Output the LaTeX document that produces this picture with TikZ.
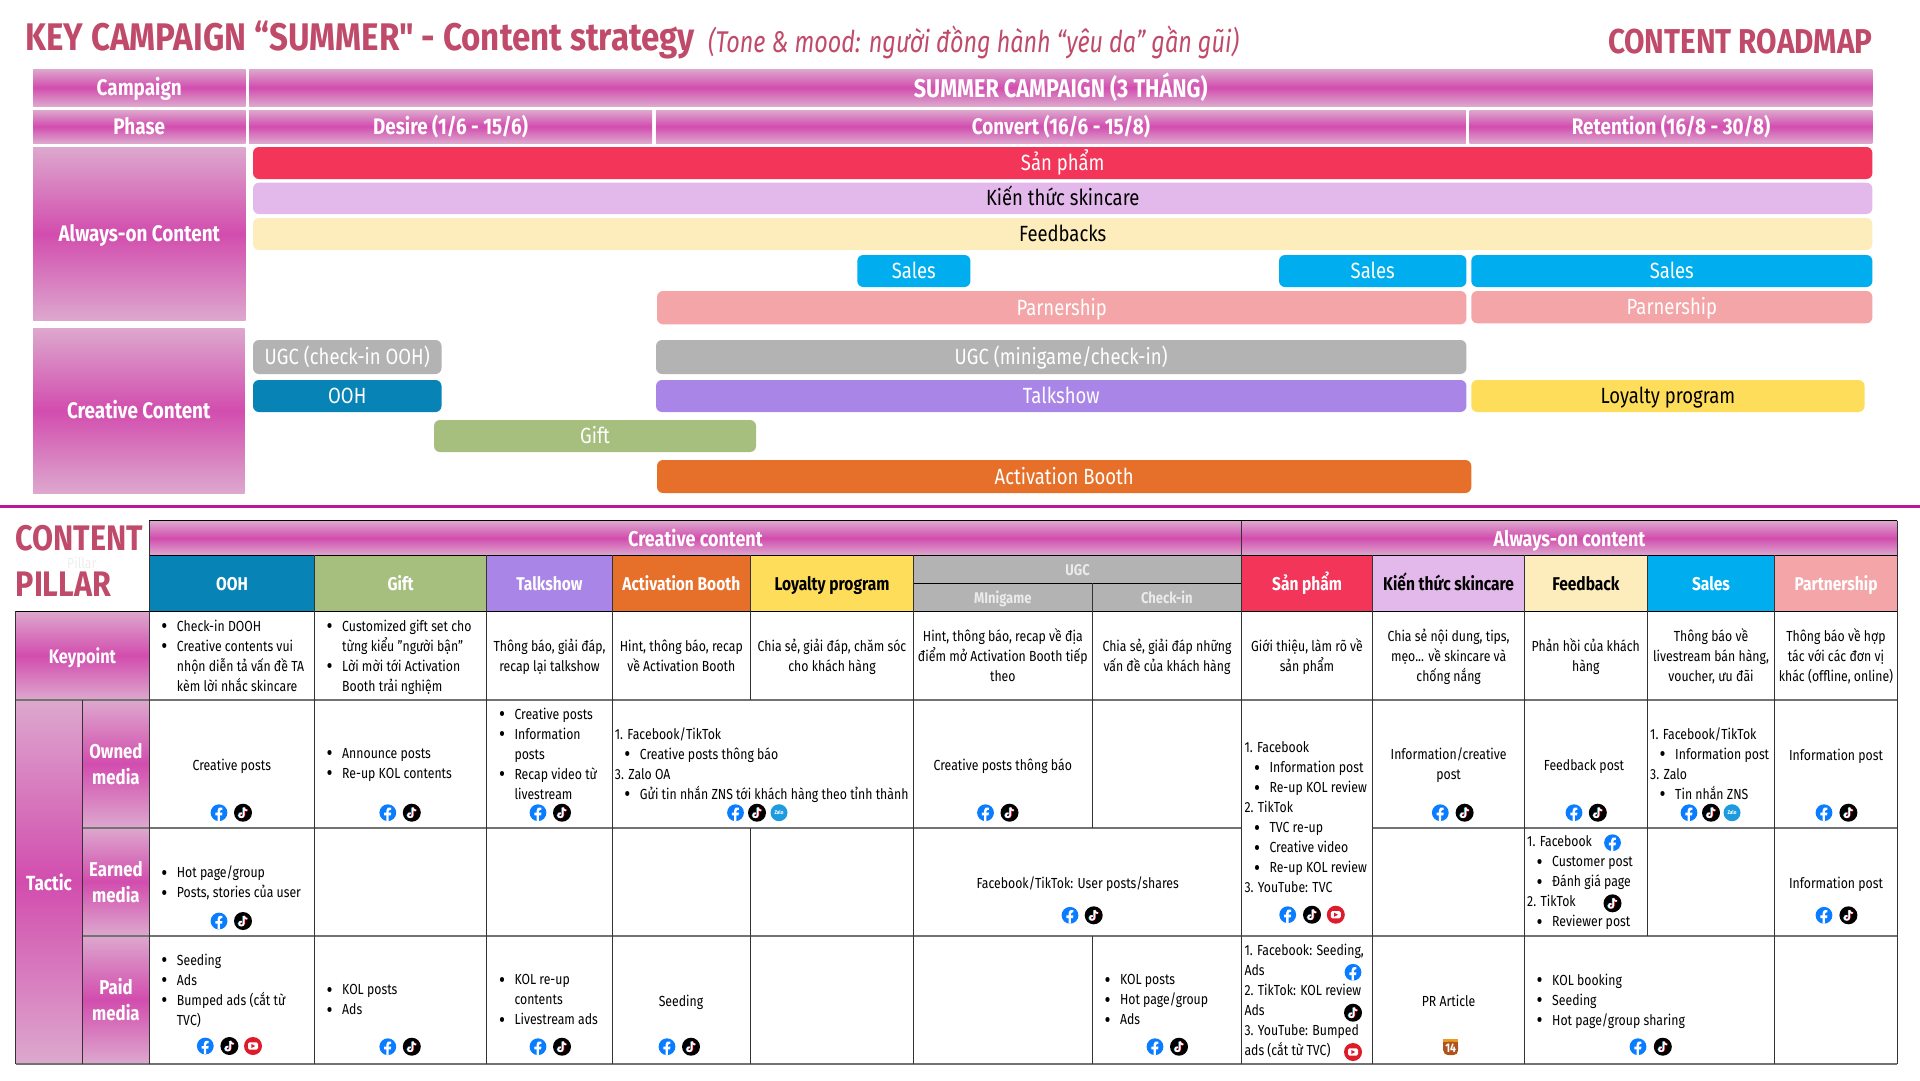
\documentclass[tikz,border=0pt]{standalone}
\usepackage{fontspec}
\setmainfont{Fira Sans}[FakeStretch=0.84]
\newfontfamily\titlefam{Fira Sans}[FakeStretch=0.86]
\newfontfamily\moodfam{Fira Sans}[FakeStretch=0.78]
\usetikzlibrary{positioning}

\definecolor{pinkedge}{HTML}{DDA8CE}
\definecolor{pinkmid}{HTML}{D24DAE}
\definecolor{titlerose}{HTML}{C04A6A}
\definecolor{rulepurple}{HTML}{B8189A}
\definecolor{redbar}{HTML}{F4355A}
\definecolor{lavbar}{HTML}{E3B8EA}
\definecolor{creambar}{HTML}{FDEDBC}
\definecolor{bluebar}{HTML}{00AEEF}
\definecolor{pinkbar}{HTML}{F4A5A7}
\definecolor{graybar}{HTML}{B3B3B3}
\definecolor{tealbar}{HTML}{0784B5}
\definecolor{greenbar}{HTML}{A6BE7E}
\definecolor{purplebar}{HTML}{A985E8}
\definecolor{orangebar}{HTML}{E6702A}
\definecolor{yellowbar}{HTML}{FEDD5A}
\definecolor{fbblue}{HTML}{0A7CFF}
\definecolor{ytred}{HTML}{DE1B2B}
\definecolor{zaloblue}{HTML}{1E9BE0}

\newcommand{\bodyfont}{\fontsize{14.6}{20}\selectfont}
\newcommand{\itm}{\makebox[17pt][l]{\hspace*{1.5pt}\raisebox{-2.5pt}{\fontsize{22}{20}\selectfont •}}}
\newcommand{\itn}{\hspace*{17pt}}
\newcommand{\itb}{\hspace*{8pt}\itm}

% box given by its corners: name, x0, y0, x1, y1, style, text
\newcommand{\boxnode}[7]{\node[#6, minimum width={(#4-#2)*1pt}, minimum height={(#5-#3)*1pt}] (#1) at ({(#2+#4)/2},{(#3+#5)/2}) {#7};}

\tikzset{
	sheenbase/.style={inner sep=0pt, outer sep=0pt, text=white, top color=pinkedge, bottom color=pinkedge, middle color=pinkmid},
	sheen/.style={sheenbase, text height=15.5pt, text depth=0pt, font=\fontsize{22.5}{26}\selectfont\bfseries},
	sheenwide/.style={sheen, text height=16pt, font=\fontsize{21.4}{26}\selectfont\bfseries},
	sheentwo/.style={sheenbase, align=center, font=\fontsize{20}{26}\selectfont\bfseries},
	barbox/.style={inner sep=0pt, outer sep=0pt, rounded corners=6pt, fill=#1, text=white, text height=15pt, text depth=0pt, font=\fontsize{22}{26}\selectfont},
	headcell/.style={inner sep=0pt, outer sep=0pt, fill=#1, text=white, text height=14pt, text depth=0pt, font=\fontsize{18.5}{22}\selectfont\bfseries},
	subcell/.style={headcell=graybar, text=white!92!black, text height=12pt, font=\fontsize{15.5}{18}\selectfont\bfseries},
	txt/.style={inner sep=0pt, yshift=-1.4pt, align=center, font=\bodyfont, execute at begin node=\strut, execute at end node=\strut},
	lst/.style={txt, align=left, anchor=west},
	gridv/.style={draw=black!80, line width=1pt},
	gridh/.style={draw=black!55, line width=1.6pt},
	gridk/.style={draw=black, line width=1pt},
	fbicon/.pic={
		\fill[fbblue] (0,0) circle (8.4);
		\fill[white] (-1.5,8.2) -- (-1.5,2.7) -- (-3.7,2.7) -- (-3.7,0) -- (-1.5,0) -- (-1.5,-2) .. controls (-1.5,-4.7) and (0,-5.5) .. (3.4,-5.2) -- (3.4,-2.9) -- (2.1,-2.9) .. controls (1.1,-2.9) and (0.9,-2.5) .. (0.9,-1.5) -- (0.9,0) -- (3.4,0) -- (3,2.7) -- (0.9,2.7) -- (0.9,8.2) -- cycle;
	},
	tticon/.pic={
		\fill[black] (0,0) circle (9);
		\foreach \ncol/\ndx in {cyan/-0.6, red/0.6, white/0} {
			\draw[\ncol, line width=1.7pt] (0.8+\ndx,-5) -- (0.8+\ndx,2.3) .. controls (0.8+\ndx,5.2) and (-3.8+\ndx,5.2) .. (-3.8+\ndx,2.6) .. controls (-3.8+\ndx,1) and (-2.2+\ndx,0.2) .. (-1+\ndx,0.6);
			\draw[\ncol, line width=1.7pt] (0.8+\ndx,-5) .. controls (1.2+\ndx,-3) and (2.6+\ndx,-2.2) .. (4.2+\ndx,-2.2);
		}
	},
	yticon/.pic={
		\fill[ytred] (0,0) circle (9);
		\fill[white, rounded corners=1.5pt] (-5,-3.6) rectangle (5,3.6);
		\fill[ytred] (-1.6,-2) -- (2.2,0) -- (-1.6,2) -- cycle;
	},
	zaloicon/.pic={
		\fill[zaloblue] (0,0) circle (8.5);
		\node[text=white, inner sep=0pt, font=\fontsize{5.5}{6}\selectfont\bfseries] (-label) at (0,0) {Zalo};
	},
	prbadge/.pic={
		\fill[orangebar!70!yellow] (-7.5,-8) rectangle (7.5,-3);
		\fill[black!25!orangebar, rounded corners=5pt] (-7.5,-5) rectangle (7.5,8.5);
		\fill[black!25!orangebar] (-7.5,-5) rectangle (7.5,0);
		\node[text=white, inner sep=0pt, font=\fontsize{12.5}{13}\selectfont\bfseries] (-label) at (0,1) {14};
	},
}

\begin{document}
\begin{tikzpicture}[x=1pt, y=-1pt]
	\useasboundingbox (0,0) rectangle (1920,1080);

	% heading
	\node[anchor=west, inner sep=0pt, text=titlerose, font=\titlefam\fontsize{38.5}{42}\selectfont\bfseries] (title) at (25.5,40) {KEY CAMPAIGN “SUMMER" - Content strategy};
	\node[anchor=west, inner sep=0pt, text=titlerose, font=\moodfam\fontsize{30}{34}\selectfont\itshape] (mood) at (708,42) {(Tone \& mood: người đồng hành “yêu da” gần gũi)};
	\node[anchor=east, inner sep=0pt, text=titlerose, font=\titlefam\fontsize{34.5}{40}\selectfont\bfseries] (roadmap) at (1872.5,41.5) {CONTENT ROADMAP};

	% roadmap, left column and phases
	\boxnode{campaign}{33}{69}{245.5}{106}{sheen}{Campaign}
	\boxnode{summer}{249}{69}{1872.4}{106}{sheen, text height=19pt, font=\fontsize{25.7}{28}\selectfont\bfseries}{SUMMER CAMPAIGN (3 THÁNG)}
	\boxnode{phase}{33}{110}{245.5}{143}{sheen}{Phase}
	\boxnode{desire}{249}{110}{652}{143}{sheen}{Desire (1/6 - 15/6)}
	\boxnode{convert}{656}{110}{1465.8}{143}{sheen}{Convert (16/6 - 15/8)}
	\boxnode{retention}{1469.5}{110}{1872.4}{143}{sheen}{Retention (16/8 - 30/8)}
	\boxnode{alwaysside}{33}{147}{245.5}{320.7}{sheen}{Always-on Content}
	\boxnode{creativeside}{33}{328}{244.5}{493}{sheen}{Creative Content}

	% roadmap bars
	\boxnode{barProduct}{253}{147}{1872.4}{179}{barbox=redbar}{Sản phẩm}
	\boxnode{barKnow}{253}{182.7}{1872.4}{214}{barbox=lavbar, text=black}{Kiến thức skincare}
	\boxnode{barFeed}{253}{218}{1872.4}{250}{barbox=creambar, text=black}{Feedbacks}
	\boxnode{barSalesA}{857.3}{255}{970.4}{287}{barbox=bluebar}{Sales}
	\boxnode{barSalesB}{1279}{255}{1466.4}{287}{barbox=bluebar}{Sales}
	\boxnode{barSalesC}{1471.3}{255}{1872.4}{287}{barbox=bluebar}{Sales}
	\boxnode{barPartA}{657}{291}{1466.4}{324.3}{barbox=pinkbar}{Parnership}
	\boxnode{barPartB}{1471.3}{291}{1872.4}{323.3}{barbox=pinkbar}{Parnership}
	\boxnode{barUgcA}{253}{340}{441.5}{374}{barbox=graybar}{UGC (check-in OOH)}
	\boxnode{barUgcB}{656}{340}{1466.4}{374}{barbox=graybar}{UGC (minigame/check-in)}
	\boxnode{barOoh}{253}{380}{441.5}{412}{barbox=tealbar}{OOH}
	\boxnode{barTalk}{656}{380}{1466.4}{412}{barbox=purplebar}{Talkshow}
	\boxnode{barLoyal}{1471.3}{380}{1864.5}{412}{barbox=yellowbar, text=black}{Loyalty program}
	\boxnode{barGift}{434}{420}{756}{452}{barbox=greenbar}{Gift}
	\boxnode{barBooth}{657}{460}{1471.3}{493}{barbox=orangebar}{Activation Booth}

	\draw[rulepurple, line width=2.8pt] (0,506.3) -- (1920,506.3);

	% pillar heading
	\node[anchor=west, inner sep=0pt, text=black!7, font=\fontsize{14.6}{18}\selectfont] (ghost) at (67,563) {Pillar};
	\node[anchor=west, inner sep=0pt, text=titlerose, font=\titlefam\fontsize{35.5}{38}\selectfont\bfseries] (pillarA) at (15.5,538) {CONTENT};
	\node[anchor=west, inner sep=0pt, text=titlerose, font=\titlefam\fontsize{35.5}{38}\selectfont\bfseries] (pillarB) at (15.5,584) {PILLAR};

	% table head
	\boxnode{headCreative}{149.4}{520.7}{1241.5}{555.3}{sheenwide}{Creative content}
	\boxnode{headAlways}{1241.5}{520.7}{1897.4}{555.3}{sheenwide}{Always-on content}
	\boxnode{headOoh}{149.4}{555.3}{314.7}{611.3}{headcell=tealbar}{OOH}
	\boxnode{headGift}{314.7}{555.3}{486.5}{611.3}{headcell=greenbar}{Gift}
	\boxnode{headTalk}{486.5}{555.3}{612.4}{611.3}{headcell=purplebar}{Talkshow}
	\boxnode{headBooth}{612.4}{555.3}{750.3}{611.3}{headcell=orangebar}{Activation Booth}
	\boxnode{headLoyal}{750.3}{555.3}{913.6}{611.3}{headcell=yellowbar, text=black}{Loyalty program}
	\boxnode{headUgc}{913.6}{555.3}{1241.5}{583.3}{subcell}{UGC}
	\boxnode{headMini}{913.6}{583.3}{1092}{611.3}{subcell}{MInigame}
	\boxnode{headCheck}{1092}{583.3}{1241.5}{611.3}{subcell}{Check-in}
	\boxnode{headProduct}{1241.5}{555.3}{1372.7}{611.3}{headcell=redbar}{Sản phẩm}
	\boxnode{headKnow}{1372.7}{555.3}{1524.5}{611.3}{headcell=lavbar, text=black}{Kiến thức skincare}
	\boxnode{headFeed}{1524.5}{555.3}{1647.2}{611.3}{headcell=creambar, text=black}{Feedback}
	\boxnode{headSales}{1647.2}{555.3}{1774.7}{611.3}{headcell=bluebar}{Sales}
	\boxnode{headPart}{1774.7}{555.3}{1897.4}{611.3}{headcell=pinkbar}{Partnership}

	% table left column
	\boxnode{keypoint}{15.5}{611.3}{149.4}{700}{sheenwide, font=\fontsize{19.5}{24}\selectfont\bfseries}{Keypoint}
	\boxnode{tactic}{15.5}{700}{82.5}{1063.7}{sheenwide, text height=18pt, font=\fontsize{20.5}{24}\selectfont\bfseries}{Tactic}
	\boxnode{owned}{82.5}{700}{149.4}{827.7}{sheentwo}{Owned\\media}
	\boxnode{earned}{82.5}{827.7}{149.4}{935.7}{sheentwo}{Earned\\media}
	\boxnode{paid}{82.5}{935.7}{149.4}{1063.7}{sheentwo}{Paid\\media}

	% grid
	\foreach \gy/\gl/\gr in {520.7/149.4/1897.4, 555.3/149.4/1897.4, 583.3/913.6/1241.5, 611.3/15.5/1897.4}
		\draw[gridk] (\gl,\gy) -- (\gr,\gy);
	\foreach \gy/\gl/\gr in {700/15.5/1897.4, 827.7/82.5/1241.5, 827.7/1372.7/1897.4, 935.7/82.5/1897.4, 1063.7/15.5/1897.4}
		\draw[gridh] (\gl,\gy) -- (\gr,\gy);
	\foreach \gx/\gt/\gb in {15.5/611.3/1063.7, 82.5/700/1063.7, 149.4/520.7/1063.7, 314.7/555.3/1063.7, 486.5/555.3/1063.7, 612.4/555.3/1063.7, 750.3/555.3/700, 750.3/827.7/1063.7, 913.6/555.3/1063.7, 1092/583.3/827.7, 1092/935.7/1063.7, 1241.5/520.7/1063.7, 1372.7/555.3/1063.7, 1524.5/555.3/1063.7, 1647.2/555.3/935.7, 1774.7/555.3/1063.7, 1897.4/520.7/1063.7}
		\draw[gridv] (\gx,\gt) -- (\gx,\gb);

	% keypoint row
	\node[lst] (kpOoh) at (159.7,657) {\itm Check-in DOOH\\\itm Creative contents vui\\\itn nhộn diễn tả vấn đề TA\\\itn kèm lời nhắc skincare};
	\node[lst] (kpGift) at (325,657) {\itm Customized gift set cho\\\itn từng kiểu "người bận"\\\itm Lời mời tới Activation\\\itn Booth trải nghiệm};
	\node[txt] (kpTalk) at (549.5,657) {Thông báo, giải đáp,\\recap lại talkshow};
	\node[txt] (kpBooth) at (681.3,657) {Hint, thông báo, recap\\về  Activation Booth};
	\node[txt] (kpLoyal) at (832,657) {Chia sẻ, giải đáp, chăm sóc\\cho khách hàng};
	\node[txt] (kpMini) at (1002.8,657) {Hint, thông báo, recap về địa\\điểm mở Activation Booth tiếp\\theo};
	\node[txt] (kpCheck) at (1167,657) {Chia sẻ, giải đáp những\\vấn đề của khách hàng};
	\node[txt] (kpProduct) at (1307,657) {Giới thiệu, làm rõ về\\sản phẩm};
	\node[txt] (kpKnow) at (1448.6,657) {Chia sẻ nội dung, tips,\\mẹo... về skincare và\\chống nắng};
	\node[txt] (kpFeed) at (1585.8,657) {Phản hồi của khách\\hàng};
	\node[txt] (kpSales) at (1711,657) {Thông báo về\\livestream bán hàng,\\voucher, ưu đãi};
	\node[txt] (kpPart) at (1836,657) {Thông báo về hợp\\tác với các đơn vị\\khác (offline, online)};

	% owned row
	\node[txt] (ownOoh) at (231.8,765) {Creative posts};
	\node[lst] (ownGift) at (325,765) {\itm Announce posts\\\itm Re-up KOL contents};
	\node[lst] (ownTalk) at (497.3,755) {\itm Creative posts\\\itm Information\\\itn posts\\\itm Recap video từ\\\itn livestream};
	\node[lst] (ownBooth) at (614.7,765) {1. Facebook/TikTok\\\itb Creative posts thông báo\\3. Zalo OA\\\itb Gửi tin nhắn ZNS tới khách hàng theo tỉnh thành};
	\node[txt] (ownMini) at (1002.8,765) {Creative posts thông báo};
	\node[lst] (ownProduct) at (1244.3,819) {1. Facebook\\\itb Information post\\\itb Re-up KOL review\\2. TikTok\\\itb TVC re-up\\\itb Creative video\\\itb Re-up KOL review\\3. YouTube: TVC};
	\node[txt] (ownKnow) at (1448.6,765) {Information/creative\\post};
	\node[txt] (ownFeed) at (1584,765) {Feedback post};
	\node[lst] (ownSales) at (1650,765) {1. Facebook/TikTok\\\itb Information post\\3. Zalo\\\itb Tin nhắn ZNS};
	\node[txt] (ownPart) at (1836,755) {Information post};

	% earned row
	\node[lst] (earnOoh) at (159.7,883.3) {\itm Hot page/group\\\itm Posts, stories của user};
	\node[txt] (earnUgc) at (1077.7,883) {Facebook/TikTok: User posts/shares};
	\node[lst] (earnFeed) at (1527,883) {1. Facebook\\\itb Customer post\\\itb Đánh giá page\\2. TikTok\\\itb Reviewer post};
	\node[txt] (earnPart) at (1836,883) {Information post};

	% paid row
	\node[lst] (paidOoh) at (159.7,991) {\itm Seeding\\\itm Ads\\\itm Bumped ads (cắt từ\\\itn TVC)};
	\node[lst] (paidGift) at (325,1001) {\itm KOL posts\\\itm Ads};
	\node[lst] (paidTalk) at (497.3,1001) {\itm KOL re-up\\\itn contents\\\itm Livestream ads};
	\node[txt] (paidBooth) at (681,1001) {Seeding};
	\node[lst] (paidCheck) at (1102.8,1001) {\itm KOL posts\\\itm Hot page/group\\\itm Ads};
	\node[lst] (paidProduct) at (1244.3,1001) {1. Facebook: Seeding,\\Ads\\2. TikTok: KOL review\\Ads\\3. YouTube: Bumped\\ads (cắt từ TVC)};
	\node[txt] (paidKnow) at (1448.6,1001) {PR Article};
	\node[lst] (paidFeed) at (1535,1001) {\itm KOL booking\\\itm Seeding\\\itm Hot page/group sharing};

	% channel icons
	\foreach \ix/\iy in {219/812.7, 387.8/812.7, 538/812.7, 735.5/812.7, 985.5/812.7, 1440.3/812.7, 1574/812.7, 1689/812.7, 1824/812.7, 219/921, 1070/915.3, 1287.7/914.7, 1612.5/842.7, 1824/915.3, 205.3/1046, 387.8/1046.7, 538/1046.7, 667/1046.7, 1155/1046.7, 1353/972.3, 1638/1046.7}
		\pic at (\ix,\iy) {fbicon};
	\foreach \ix/\iy in {243/812.7, 411.8/812.7, 562/812.7, 757/812.7, 1009.5/812.7, 1464.6/812.7, 1597.8/812.7, 1711/812.7, 1848.4/812.7, 243/921, 1093.7/915.3, 1312/914.7, 1612.5/903.3, 1848.4/915.3, 229.4/1046, 411.8/1046.7, 562/1046.7, 691/1046.7, 1179/1046.7, 1353/1012.7, 1662.8/1046.7}
		\pic at (\ix,\iy) {tticon};
	\foreach \ix/\iy in {253/1046, 1335.8/914.7, 1353/1052}
		\pic at (\ix,\iy) {yticon};
	\foreach \ix/\iy in {779/812.7, 1732/812.7}
		\pic at (\ix,\iy) {zaloicon};
	\pic at (1450.7,1046.7) {prbadge};

\end{tikzpicture}
\end{document}
